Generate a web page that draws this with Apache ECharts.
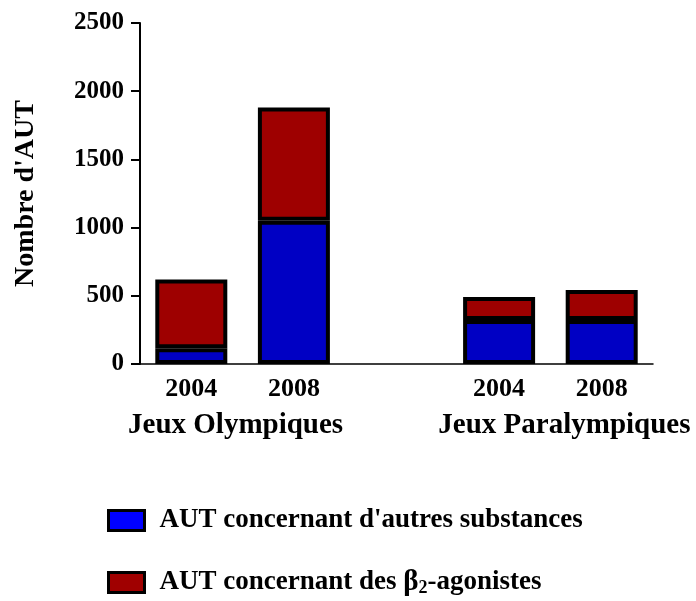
<!DOCTYPE html>
<html>
<head>
<meta charset="utf-8">
<script src="https://cdn.jsdelivr.net/npm/echarts@6/dist/echarts.min.js"></script>
<style>
html, body { margin: 0; padding: 0; background: #fff; }
#main { width: 696px; height: 601px; }
</style>
</head>
<body>
<div id="main"></div>
<script>
// categories (empty slot between the two games)
const years = ['2004', '2008', '', '2004', '2008'];
const groups = ['', '', 'Jeux Olympiques', '', '', '', '', '', 'Jeux Paralympiques', '', ''];
const yTicks = [0, 500, 1000, 1500, 2000, 2500];
// AUT counts
const autresValues = [115, 1050, '-', 322, 322];
const betaValues = [505, 830, '-', 170, 220];

const nameAutres = "AUT concernant d'autres substances";
const nameBeta = 'AUT concernant des β2-agonistes';

const serif = '"Liberation Serif", "Times New Roman", serif';
const myChart = echarts.init(document.getElementById('main'));

function legendText(name) {
  if (name.indexOf('β2') >= 0) {
    const parts = name.split('β2');
    return '{t|' + parts[0] + '}{b|β}{s|2}{t|' + parts[1] + '}';
  }
  return '{t|' + name + '}';
}

const legendTextStyle = {
  color: '#000',
  padding: [0, 0, 0, 10],
  rich: {
    t: { fontFamily: serif, fontWeight: 'bold', fontSize: 27, color: '#000' },
    b: { fontFamily: serif, fontWeight: 'bold', fontSize: 29, color: '#000' },
    s: { fontFamily: serif, fontWeight: 'bold', fontSize: 18, color: '#000', verticalAlign: 'bottom', padding: [12, 0, 0, 0] }
  }
};

// shift the two group titles a little off the band centre, like the original
const groupData = groups.map(function (g, i) {
  if (i === 2) return { value: g, textStyle: { padding: [0, 14, 0, 0] } };
  if (i === 8) return { value: g, textStyle: { padding: [0, 0, 0, 28] } };
  return g;
});

const option = {
  animation: false,
  grid: { left: 140, right: 43, top: 23, bottom: 237, outerBoundsMode: 'none' },
  xAxis: [
    {
      type: 'category',
      data: years,
      axisLine: { lineStyle: { color: '#000', width: 1.5 } },
      axisTick: { show: false },
      axisLabel: { color: '#000', fontFamily: serif, fontWeight: 'bold', fontSize: 26, margin: 12, interval: 0 }
    },
    {
      type: 'category',
      position: 'bottom',
      boundaryGap: false,
      data: groupData,
      axisLine: { show: false },
      axisTick: { show: false },
      axisLabel: { color: '#000', fontFamily: serif, fontWeight: 'bold', fontSize: 29, margin: 47, interval: 0 }
    }
  ],
  yAxis: {
    type: 'value',
    min: yTicks[0],
    max: yTicks[yTicks.length - 1],
    interval: 500,
    name: "Nombre d'AUT",
    nameLocation: 'middle',
    nameGap: 100,
    nameTextStyle: { color: '#000', fontFamily: serif, fontWeight: 'bold', fontSize: 28 },
    splitLine: { show: false },
    axisLine: { show: true, lineStyle: { color: '#000', width: 2 } },
    axisTick: { show: true, inside: false, length: 9, lineStyle: { color: '#000', width: 2 } },
    axisLabel: {
      color: '#000', fontFamily: serif, fontWeight: 'bold', fontSize: 25, margin: 16,
      formatter: function (v) { return String(v); }
    }
  },
  legend: [
    {
      left: 102,
      top: 502,
      itemWidth: 36,
      itemHeight: 20,
      icon: 'rect',
      data: [{ name: nameAutres, itemStyle: { color: '#0000ff', borderColor: '#000', borderWidth: 3 } }],
      formatter: legendText,
      textStyle: legendTextStyle
    },
    {
      left: 102,
      top: 563,
      itemWidth: 36,
      itemHeight: 20,
      icon: 'rect',
      data: [{ name: nameBeta, itemStyle: { color: '#a00000', borderColor: '#000', borderWidth: 3 } }],
      formatter: legendText,
      textStyle: legendTextStyle
    }
  ],
  series: [
    {
      name: nameAutres,
      type: 'bar',
      stack: 'aut',
      barWidth: 72,
      data: autresValues,
      itemStyle: { color: '#0000c4', borderColor: '#000', borderWidth: 4 }
    },
    {
      name: nameBeta,
      type: 'bar',
      stack: 'aut',
      barWidth: 72,
      data: betaValues,
      itemStyle: { color: '#9e0000', borderColor: '#000', borderWidth: 4 }
    }
  ]
};

myChart.setOption(option);
</script>
</body>
</html>
